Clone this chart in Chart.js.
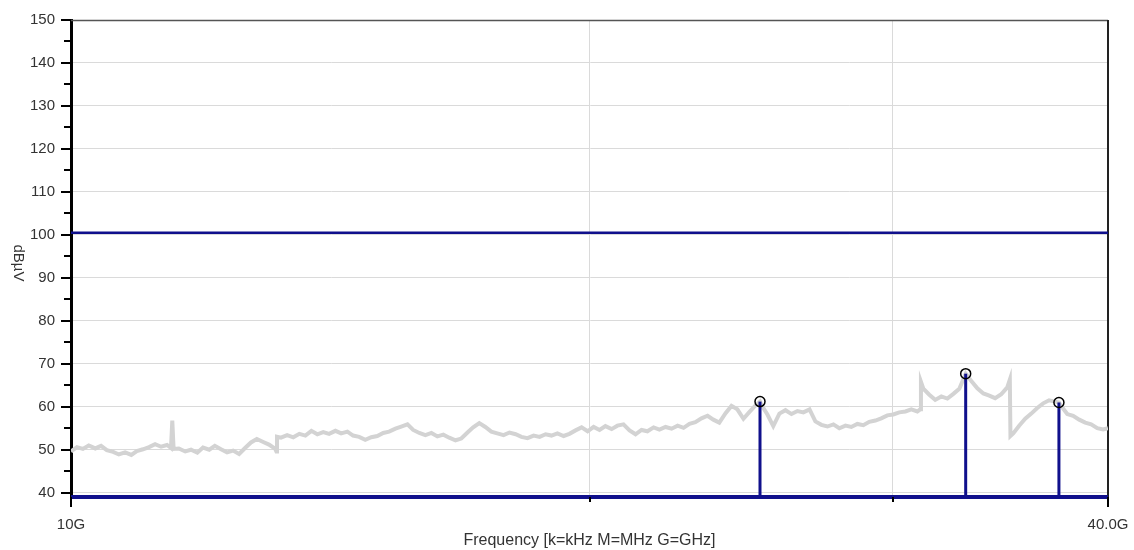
<!DOCTYPE html>
<html>
<head>
<meta charset="utf-8">
<script src="https://cdn.jsdelivr.net/npm/chart.js@4.4.1/dist/chart.umd.min.js"></script>
<style>
  html, body { margin: 0; padding: 0; background: #ffffff; }
  #wrap { width: 1134px; height: 550px; position: relative; }
</style>
</head>
<body>
<div id="wrap"><canvas id="c" width="1134" height="550"></canvas></div>
<script>
// Measured spectrum trace: frequency in GHz, level in dBµV
const traceFreqGHz = [
  10.00, 10.08, 10.16, 10.24, 10.33, 10.41, 10.49, 10.58, 10.66, 10.75, 10.84, 10.92,
  11.01, 11.10, 11.19, 11.28, 11.37, 11.43, 11.45, 11.47, 11.55, 11.65, 11.74, 11.84,
  11.93, 12.03, 12.12, 12.22, 12.32, 12.42, 12.52, 12.62, 12.72, 12.82, 12.93, 13.03,
  13.14, 13.16, 13.17, 13.24, 13.35, 13.46, 13.57, 13.68, 13.79, 13.90, 14.01, 14.12,
  14.24, 14.35, 14.47, 14.58, 14.70, 14.82, 14.94, 15.06, 15.18, 15.30, 15.43, 15.55,
  15.68, 15.80, 15.93, 16.06, 16.19, 16.32, 16.45, 16.58, 16.72, 16.85, 16.99, 17.12,
  17.26, 17.40, 17.54, 17.68, 17.83, 17.97, 18.12, 18.26, 18.41, 18.56, 18.71, 18.86,
  19.01, 19.16, 19.32, 19.47, 19.63, 19.79, 19.95, 20.11, 20.27, 20.43, 20.60, 20.76,
  20.93, 21.10, 21.27, 21.44, 21.61, 21.79, 21.96, 22.14, 22.32, 22.50, 22.68, 22.86,
  23.04, 23.23, 23.42, 23.60, 23.79, 23.99, 24.18, 24.37, 24.57, 24.77, 24.97, 25.12,
  25.17, 25.37, 25.57, 25.78, 25.99, 26.20, 26.41, 26.62, 26.84, 27.05, 27.27, 27.49,
  27.71, 27.93, 28.16, 28.38, 28.61, 28.84, 29.07, 29.31, 29.54, 29.78, 30.02, 30.26,
  30.51, 30.75, 31.00, 31.12, 31.15, 31.25, 31.50, 31.75, 32.01, 32.27, 32.53, 32.79,
  33.07, 33.32, 33.59, 33.86, 34.13, 34.40, 34.68, 34.96, 35.08, 35.11, 35.24, 35.52,
  35.81, 36.10, 36.39, 36.68, 36.97, 37.27, 37.46, 37.57, 37.88, 38.18, 38.49, 38.80,
  39.11, 39.43, 39.74, 40.00
];
const traceLevelDb = [
  49.6, 50.6, 50.2, 51.0, 50.3, 50.9, 49.9, 49.5, 48.9, 49.4, 48.8, 49.7,
  50.1, 50.6, 51.3, 50.7, 51.1, 50.4, 56.8, 50.2, 50.3, 49.6, 50.0, 49.3,
  50.5, 50.0, 50.9, 50.1, 49.4, 49.8, 49.0, 50.4, 51.7, 52.5, 51.8, 51.2,
  50.2, 49.6, 53.0, 52.8, 53.4, 52.9, 53.7, 53.3, 54.4, 53.6, 54.1, 53.7,
  54.4, 53.8, 54.2, 53.3, 53.0, 52.3, 52.9, 53.2, 53.9, 54.2, 54.9, 55.4,
  55.9, 54.6, 53.9, 53.4, 53.9, 53.1, 53.5, 52.8, 52.2, 52.6, 54.0, 55.2,
  56.2, 55.3, 54.2, 53.8, 53.4, 54.0, 53.6, 53.0, 52.7, 53.3, 53.0, 53.6,
  53.3, 53.8, 53.2, 53.7, 54.5, 55.2, 54.3, 55.3, 54.6, 55.5, 54.8, 55.6,
  55.9, 54.5, 53.6, 54.6, 54.3, 55.2, 54.7, 55.3, 54.9, 55.6, 55.1, 56.0,
  56.4, 57.3, 57.9, 57.0, 56.3, 58.5, 60.2, 59.4, 57.2, 58.8, 60.3, 61.2,
  60.4, 58.2, 55.5, 58.4, 59.2, 58.3, 59.0, 58.7, 59.4, 56.6, 55.8, 55.4,
  55.9, 55.0, 55.6, 55.3, 56.0, 55.7, 56.5, 56.8, 57.3, 58.0, 58.2, 58.7,
  58.9, 59.4, 58.9, 59.4, 65.8, 64.2, 62.8, 61.6, 62.4, 61.9, 63.0, 64.2,
  67.7, 66.0, 64.3, 63.1, 62.6, 62.0, 62.9, 64.5, 66.3, 53.2, 53.8, 55.6,
  57.2, 58.4, 59.7, 60.8, 61.5, 61.2, 61.0, 60.2, 58.3, 57.9, 57.0, 56.3,
  55.9, 55.0, 54.7, 55.0
];

// Peak markers
const peakFreqGHz = [25.12, 33.07, 37.46];
const peakLevelDb = [61.2, 67.7, 61.0];

// Limit line and floor line
const limitDb = 100.5;
const floorDb = 39;

// Axis ticks
const yTickValues = [40, 45, 50, 55, 60, 65, 70, 75, 80, 85, 90, 95, 100, 105, 110, 115, 120, 125, 130, 135, 140, 145, 150];
const xTickValues = [10, 20, 30, 40];
const xTickLabels = ['10G', '', '', '40.0G'];
const xMin = 10, xMax = 40, yMin = 39, yMax = 150;

const NAVY = '#10108c';
const GRID = '#dadada';
const FONT = '"Liberation Sans", Arial, sans-serif';

const traceData = traceFreqGHz.map((f, i) => ({ x: f, y: traceLevelDb[i] }));

const stemSets = peakFreqGHz.map((f, i) => ({
  type: 'line',
  data: [{ x: f, y: floorDb }, { x: f, y: peakLevelDb[i] }],
  borderColor: NAVY,
  borderWidth: 3,
  pointRadius: 0,
  order: 2
}));

// Frame, hand-sized tick marks and the rotated y title
const framePlugin = {
  id: 'frame',
  beforeDatasetsDraw(chart) {
    const { ctx, chartArea: a } = chart;
    ctx.save();
    ctx.strokeStyle = '#555555';
    ctx.lineWidth = 1.5;
    ctx.beginPath();
    ctx.moveTo(a.left, a.top + 0.5);
    ctx.lineTo(a.right, a.top + 0.5);
    ctx.stroke();
    ctx.strokeStyle = '#222222';
    ctx.lineWidth = 2;
    ctx.beginPath();
    ctx.moveTo(a.right, a.top);
    ctx.lineTo(a.right, a.bottom + 10);
    ctx.stroke();
    ctx.restore();
  },
  afterDraw(chart) {
    const { ctx, chartArea: a, scales } = chart;
    const ys = scales.y, xs = scales.x;
    ctx.save();
    ctx.strokeStyle = '#000000';
    ctx.lineWidth = 2;
    yTickValues.forEach(v => {
      const py = Math.round(ys.getPixelForValue(v));
      const len = v % 10 === 0 ? 10 : 7;
      ctx.beginPath();
      ctx.moveTo(a.left - len, py);
      ctx.lineTo(a.left, py);
      ctx.stroke();
    });
    xTickValues.forEach((v, i) => {
      const px = Math.round(xs.getPixelForValue(v));
      const len = xTickLabels[i] ? 10 : 5;
      ctx.beginPath();
      ctx.moveTo(px, a.bottom);
      ctx.lineTo(px, a.bottom + len);
      ctx.stroke();
    });
    ctx.fillStyle = '#333333';
    ctx.font = '15px ' + FONT;
    ctx.textAlign = 'center';
    ctx.textBaseline = 'middle';
    ctx.translate(18, 263);
    ctx.rotate(Math.PI / 2);
    ctx.fillText('dBµV', 0, 0);
    ctx.restore();
  }
};

new Chart(document.getElementById('c'), {
  type: 'line',
  data: {
    datasets: [
      {
        label: 'trace',
        data: traceData,
        borderColor: '#d3d3d3',
        borderWidth: 4,
        pointRadius: 0,
        tension: 0,
        order: 5
      },
      {
        label: 'limit',
        data: [{ x: xMin, y: limitDb }, { x: xMax, y: limitDb }],
        borderColor: NAVY,
        borderWidth: 2.5,
        pointRadius: 0,
        order: 3
      },
      ...stemSets,
      {
        label: 'floor',
        data: [{ x: xMin, y: floorDb }, { x: xMax, y: floorDb }],
        borderColor: NAVY,
        borderWidth: 4,
        pointRadius: 0,
        clip: false,
        order: 1
      },
      {
        label: 'peaks',
        data: peakFreqGHz.map((f, i) => ({ x: f, y: peakLevelDb[i] })),
        showLine: false,
        pointStyle: 'circle',
        pointRadius: 5,
        pointBorderWidth: 1.5,
        pointBorderColor: '#000000',
        pointBackgroundColor: 'rgba(255,255,255,0)',
        order: 0
      }
    ]
  },
  options: {
    responsive: false,
    animation: false,
    events: [],
    layout: { padding: { top: 20, right: 26, left: 0, bottom: 0 } },
    plugins: { legend: { display: false }, tooltip: { enabled: false } },
    scales: {
      x: {
        type: 'logarithmic',
        min: xMin,
        max: xMax,
        afterBuildTicks: s => { s.ticks = xTickValues.map(v => ({ value: v })); },
        afterFit: s => { s.height = 53; s.paddingLeft = 0; s.paddingRight = 0; },
        ticks: {
          autoSkip: false,
          maxRotation: 0,
          padding: 19,
          color: '#333333',
          font: { family: FONT, size: 15 },
          callback: (v) => { const i = xTickValues.indexOf(v); return i >= 0 ? xTickLabels[i] : ''; }
        },
        grid: {
          drawTicks: false,
          color: ctx => (ctx.tick && (ctx.tick.value === 20 || ctx.tick.value === 30)) ? GRID : 'rgba(0,0,0,0)',
          lineWidth: 1
        },
        border: { display: false },
        title: {
          display: true,
          text: 'Frequency [k=kHz M=MHz G=GHz]',
          color: '#333333',
          font: { family: FONT, size: 16 },
          padding: { top: 0, bottom: 0 }
        }
      },
      y: {
        type: 'linear',
        min: yMin,
        max: yMax,
        afterBuildTicks: s => { s.ticks = yTickValues.map(v => ({ value: v })); },
        afterFit: s => { s.width = 71; s.paddingTop = 0; s.paddingBottom = 0; },
        ticks: {
          autoSkip: false,
          padding: 16,
          color: '#333333',
          font: { family: FONT, size: 15 },
          callback: v => (v % 10 === 0 ? String(v) : '')
        },
        grid: {
          drawTicks: false,
          color: ctx => (ctx.tick && ctx.tick.value % 10 === 0 && ctx.tick.value < 150) ? GRID : 'rgba(0,0,0,0)',
          lineWidth: 1
        },
        border: { display: true, color: '#000000', width: 3 }
      }
    }
  },
  plugins: [framePlugin]
});
</script>
</body>
</html>
